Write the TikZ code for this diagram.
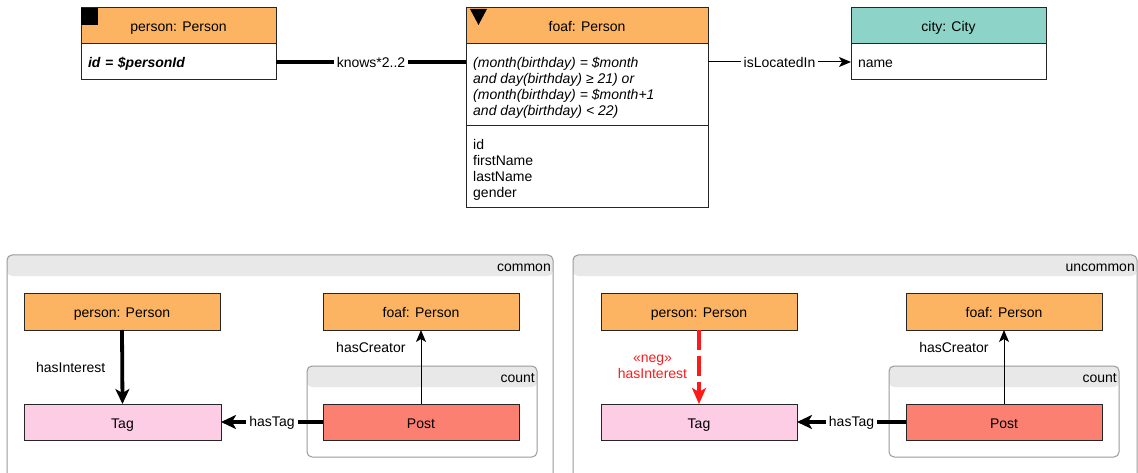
\documentclass[tikz,border=0pt]{standalone}
\usepackage{fontspec}
\setmainfont{Liberation Sans}
\usetikzlibrary{arrows.meta}
\definecolor{orangeP}{HTML}{FDB462}
\definecolor{tealC}{HTML}{8DD3C7}
\definecolor{pinkT}{HTML}{FCCDE5}
\definecolor{salmonP}{HTML}{FB8072}
\definecolor{hdrgray}{HTML}{E8E8E8}
\definecolor{grpline}{HTML}{9A9A9A}
\definecolor{negred}{HTML}{FF1A1A}
\tikzset{
  txt/.style={font=\fontsize{14}{16}\selectfont},
  box/.style={txt, draw=black!85, line width=1pt, inner sep=0pt, outer sep=0pt, anchor=north west},
  one/.style={text height=12pt, text depth=0pt},
  lbl/.style={txt, fill=white, inner sep=3pt},
  freelbl/.style={txt, inner sep=0pt},
  thickline/.style={line width=3.8pt},
  thickarrow/.style={line width=3.8pt, -{Stealth[length=15pt,width=14pt,inset=4pt]}},
  thinarrow/.style={line width=1pt, -{Stealth[length=12pt,width=10pt,inset=3pt]}},
  negarrow/.style={line width=3.8pt, negred, dash pattern=on 20pt off 6pt, -{Stealth[length=16pt,width=14pt,inset=4pt]}},
  grp/.style={draw=grpline, line width=1pt, rounded corners=5pt, inner sep=0pt, outer sep=0pt, anchor=north west,
    path picture={\fill[hdrgray] (path picture bounding box.north west) rectangle ([yshift=-21pt]path picture bounding box.north east);}},
  grplbl/.style={txt, anchor=east, inner sep=0pt},
}
\begin{document}
\begin{tikzpicture}[x=1pt,y=-1pt]
\useasboundingbox (0,0) rectangle (1138,473);
\clip (0,0) rectangle (1138,473);

% ---------- top row ----------
\node[box, one, fill=orangeP, minimum width=195, minimum height=36] (pH) at (81,8) {person: Person};
\node[box, one, fill=white, minimum width=195, minimum height=36, text width=181, align=left] (pB) at (81,44) {\bfseries\itshape id = \$personId};
\fill[black] (81,8) rectangle (98,25);

\node[box, one, fill=orangeP, minimum width=242, minimum height=36] (fH) at (466,8) {foaf: Person};
\node[box, fill=white, minimum width=242, minimum height=82] (fC) at (466,44) {};
\node[txt, font=\fontsize{14}{16}\selectfont\itshape, anchor=west, align=left, inner sep=0pt] (fCt) at ([xshift=7pt,yshift=-2.5pt]fC.west)
  {(month(birthday) = \$month\\ and day(birthday) ≥ 21) or\\ (month(birthday) = \$month+1\\ and day(birthday) < 22)};
\node[box, fill=white, minimum width=242, minimum height=82] (fA) at (466,126) {};
\node[txt, anchor=west, align=left, inner sep=0pt] (fAt) at ([xshift=7pt,yshift=-2.5pt]fA.west)
  {id\\ firstName\\ lastName\\ gender};
\fill[black] (470,9) -- (487,9) -- (478.5,25) -- cycle;

\node[box, one, fill=tealC, minimum width=195, minimum height=36] (cH) at (851,8) {city: City};
\node[box, one, fill=white, minimum width=195, minimum height=36, text width=181, align=left] (cB) at (851,44) {name};

\draw[thickline] (pB.east) -- node[lbl]{knows*2..2} (pB.east -| fC.west);
\draw[thinarrow] (cB.west -| fC.east) -- node[lbl]{isLocatedIn} (cB.west);

% ---------- common group ----------
\node[grp, minimum width=546, minimum height=240] (common) at (7,255) {};
\node[grplbl] (commonL) at ([xshift=-2pt,yshift=-12.5pt]common.north east) {common};
\node[grp, minimum width=230, minimum height=91] (count1) at (307,366) {};
\node[grplbl] (count1L) at ([xshift=-2pt,yshift=-12.5pt]count1.north east) {count};

\node[box, one, fill=orangeP, minimum width=196, minimum height=37] (pers1) at (24,293) {person: Person};
\node[box, one, fill=orangeP, minimum width=196, minimum height=37] (foaf1) at (323,293) {foaf: Person};
\node[box, one, fill=pinkT, minimum width=197, minimum height=36] (tag1) at (24,404) {Tag};
\node[box, one, fill=salmonP, minimum width=196, minimum height=36] (post1) at (323,404) {Post};

\draw[thickarrow] (pers1.south) -- node[freelbl, anchor=east, xshift=-15pt]{hasInterest} (tag1.north);
\draw[thinarrow] (post1.north) -- node[freelbl, pos=0.77, anchor=east, xshift=-15pt]{hasCreator} (foaf1.south);
\draw[thickarrow] (post1.west) -- node[lbl, yshift=-1pt]{hasTag} (tag1.east);

% ---------- uncommon group ----------
\node[grp, minimum width=564, minimum height=240] (uncommon) at (573,255) {};
\node[grplbl] (uncommonL) at ([xshift=-2pt,yshift=-12.5pt]uncommon.north east) {uncommon};
\node[grp, minimum width=230, minimum height=91] (count2) at (889,366) {};
\node[grplbl] (count2L) at ([xshift=-2pt,yshift=-12.5pt]count2.north east) {count};

\node[box, one, fill=orangeP, minimum width=196, minimum height=37] (pers2) at (601,293) {person: Person};
\node[box, one, fill=orangeP, minimum width=196, minimum height=37] (foaf2) at (906,293) {foaf: Person};
\node[box, one, fill=pinkT, minimum width=196, minimum height=36] (tag2) at (601,404) {Tag};
\node[box, one, fill=salmonP, minimum width=196, minimum height=36] (post2) at (906,404) {Post};

\draw[negarrow] (pers2.south) -- node[freelbl, anchor=east, xshift=-10pt, align=center, text=negred]{«neg»\\hasInterest} (tag2.north);
\draw[thinarrow] (post2.north) -- node[freelbl, pos=0.77, anchor=east, xshift=-15pt]{hasCreator} (foaf2.south);
\draw[thickarrow] (post2.west) -- node[lbl, yshift=-1pt]{hasTag} (tag2.east);
\end{tikzpicture}
\end{document}
